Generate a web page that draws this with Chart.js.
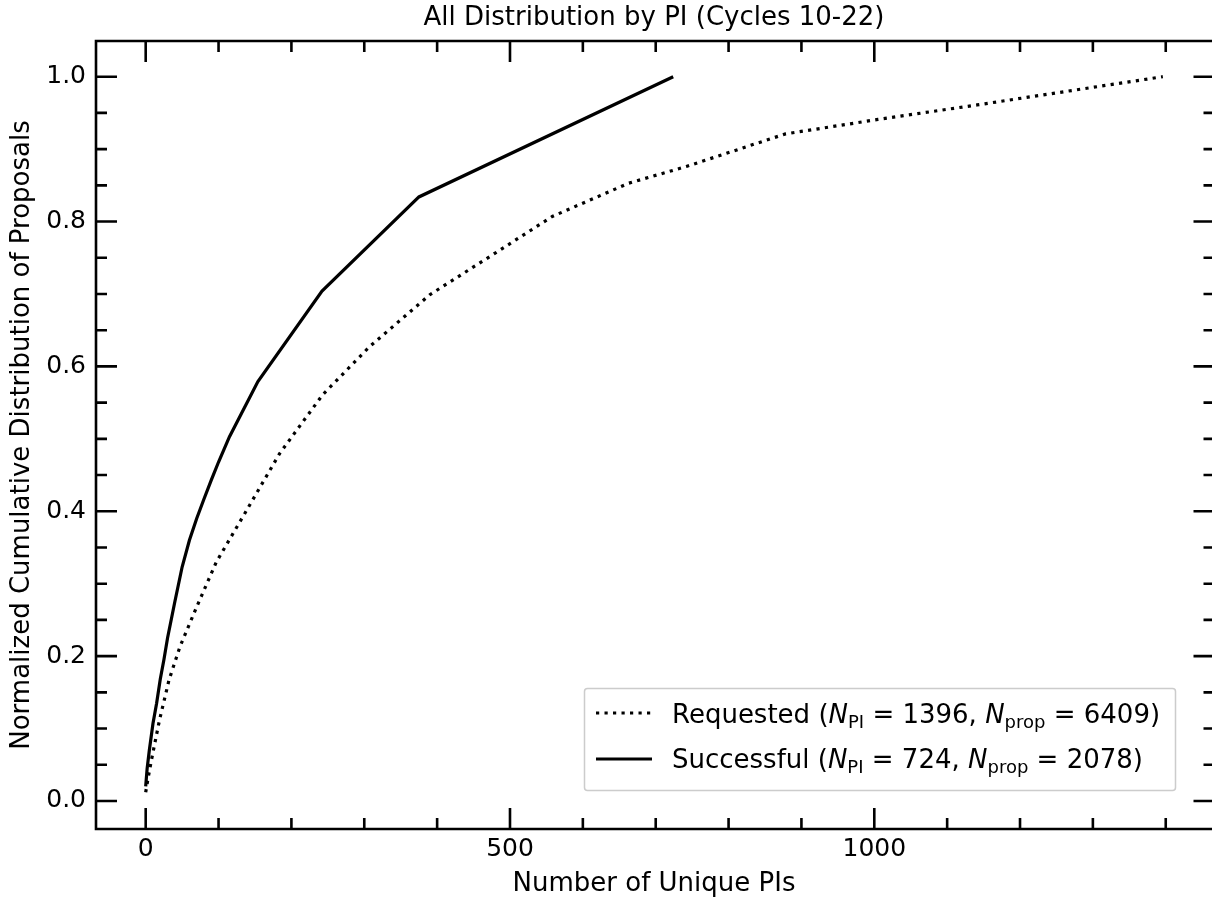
<!DOCTYPE html>
<html>
<head>
<meta charset="utf-8">
<script src="https://cdn.jsdelivr.net/npm/chart.js@4/dist/chart.umd.min.js"></script>
<style>
  html, body { margin: 0; padding: 0; background: #fff; }
  canvas { display: block; }
</style>
</head>
<body>
<canvas id="cdfChart" width="1212" height="902"></canvas>
<script>
// Series (x = number of unique PIs, y = normalized cumulative fraction)
const requestedX = [0, 3, 8, 19, 32, 47, 70, 97, 136, 184, 243, 307, 390, 479, 558, 663, 742, 878, 1005, 1141, 1396];
const requestedY = [0.012, 0.03, 0.057, 0.112, 0.167, 0.213, 0.268, 0.330, 0.397, 0.480, 0.561, 0.627, 0.699, 0.756, 0.807, 0.853, 0.876, 0.921, 0.941, 0.961, 1.0];

const successfulX = [0, 2, 5, 10, 15, 20, 25, 30, 40, 50, 60, 70, 80, 90, 100, 115, 154, 242, 375, 724];
const successfulY = [0.02, 0.045, 0.07, 0.107, 0.135, 0.168, 0.195, 0.225, 0.275, 0.323, 0.36, 0.39, 0.417, 0.443, 0.468, 0.503, 0.579, 0.704, 0.834, 1.0];

const seriesNames = ['Requested', 'Successful'];
const nPI = [1396, 724];
const nProp = [6409, 2078];

const xTickLabels = [0, 500, 1000];
const yTickLabels = [0.0, 0.2, 0.4, 0.6, 0.8, 1.0];

const FONT = "'DejaVu Sans', sans-serif";

function toPoints(xs, ys) {
    return xs.map((x, i) => ({ x, y: ys[i] }));
}

// inward ticks on all four sides plus the frame, like the matplotlib original
const framePlugin = {
    id: 'frame',
    afterDatasetsDraw(chart) {
        const { ctx, chartArea: a, scales: { x, y } } = chart;
        ctx.save();
        ctx.strokeStyle = '#000';
        ctx.lineWidth = 2.6;
        ctx.lineCap = 'butt';

        ctx.beginPath();
        ctx.moveTo(a.left, a.bottom); ctx.lineTo(a.right + 4, a.bottom);
        ctx.moveTo(a.left, a.top); ctx.lineTo(a.right + 4, a.top);
        ctx.moveTo(a.left, a.top - 1.3); ctx.lineTo(a.left, a.bottom + 1.3);
        ctx.stroke();

        const rightEdge = a.right + 2.5;
        ctx.beginPath();
        for (let v = 0; v <= 1400; v += 100) {
            const px = x.getPixelForValue(v);
            const len = v % 500 === 0 ? 21 : 11;
            ctx.moveTo(px, a.bottom); ctx.lineTo(px, a.bottom - len);
            ctx.moveTo(px, a.top); ctx.lineTo(px, a.top + len);
        }
        for (let i = 0; i <= 20; i++) {
            const py = y.getPixelForValue(i * 0.05);
            const len = i % 4 === 0 ? 21 : 11;
            ctx.moveTo(a.left, py); ctx.lineTo(a.left + len, py);
            ctx.moveTo(rightEdge, py); ctx.lineTo(rightEdge - len, py);
        }
        ctx.stroke();
        ctx.restore();
    }
};

function drawRich(ctx, x, y, parts) {
    parts.forEach(p => {
        ctx.font = p.font;
        ctx.fillText(p.text, x, y + (p.dy || 0));
        x += ctx.measureText(p.text).width;
    });
}

// legend with N_PI / N_prop subscripts, drawn by hand since Chart.js has no mathtext
const legendPlugin = {
    id: 'subLegend',
    afterDraw(chart) {
        const ctx = chart.ctx;
        const box = { left: 584.5, top: 688.5, right: 1175.5, bottom: 790.5 };
        ctx.save();
        ctx.fillStyle = 'rgba(255,255,255,0.8)';
        ctx.strokeStyle = '#cccccc';
        ctx.lineWidth = 1.5;
        ctx.beginPath();
        ctx.roundRect(box.left, box.top, box.right - box.left, box.bottom - box.top, 3);
        ctx.fill();
        ctx.stroke();

        const rows = [
            { lineY: 713, textY: 722.5 },
            { lineY: 759, textY: 767.5 }
        ];
        chart.data.datasets.forEach((ds, i) => {
            const r = rows[i];
            ctx.strokeStyle = '#000';
            ctx.lineWidth = ds.borderWidth;
            ctx.setLineDash(ds.borderDash || []);
            ctx.beginPath();
            ctx.moveTo(596, r.lineY);
            ctx.lineTo(652, r.lineY);
            ctx.stroke();
            ctx.setLineDash([]);

            ctx.fillStyle = '#000';
            ctx.textBaseline = 'alphabetic';
            ctx.textAlign = 'left';
            const reg = `26px ${FONT}`;
            const ita = `italic 26px ${FONT}`;
            const sub = `18px ${FONT}`;
            drawRich(ctx, 672, r.textY, [
                { text: seriesNames[i] + ' (', font: reg },
                { text: 'N', font: ita },
                { text: 'PI', font: sub, dy: 5 },
                { text: ' = ' + nPI[i] + ', ', font: reg },
                { text: 'N', font: ita },
                { text: 'prop', font: sub, dy: 5 },
                { text: ' = ' + nProp[i] + ')', font: reg }
            ]);
        });
        ctx.restore();
    }
};

const ctx = document.getElementById('cdfChart').getContext('2d');

new Chart(ctx, {
    type: 'scatter',
    data: {
        datasets: [
            {
                label: seriesNames[0],
                data: toPoints(requestedX, requestedY),
                showLine: true,
                borderColor: '#000',
                borderWidth: 3.2,
                borderDash: [3.2, 5.3],
                borderCapStyle: 'butt',
                pointRadius: 0,
                tension: 0
            },
            {
                label: seriesNames[1],
                data: toPoints(successfulX, successfulY),
                showLine: true,
                borderColor: '#000',
                borderWidth: 3.2,
                pointRadius: 0,
                tension: 0
            }
        ]
    },
    options: {
        responsive: false,
        animation: false,
        devicePixelRatio: 1,
        layout: { padding: 0 },
        scales: {
            x: {
                type: 'linear',
                min: -68.2,
                max: 1463.5,
                afterBuildTicks: scale => { scale.ticks = xTickLabels.map(v => ({ value: v })); },
                afterFit: scale => { scale.height = 73; },
                grid: { display: false, drawTicks: false },
                border: { display: false },
                ticks: {
                    color: '#000',
                    font: { family: FONT, size: 25 },
                    padding: 5,
                    maxRotation: 0,
                    callback: v => String(v)
                },
                title: {
                    display: true,
                    text: 'Number of Unique PIs',
                    color: '#000',
                    font: { family: FONT, size: 26 },
                    padding: { top: 0, bottom: 2.5 }
                }
            },
            y: {
                min: -0.0387,
                max: 1.0493,
                afterBuildTicks: scale => { scale.ticks = yTickLabels.map(v => ({ value: v })); },
                afterFit: scale => { scale.width = 96; },
                grid: { display: false, drawTicks: false },
                border: { display: false },
                ticks: {
                    color: '#000',
                    font: { family: FONT, size: 25 },
                    padding: 10,
                    callback: v => Number(v).toFixed(1)
                },
                title: {
                    display: true,
                    text: 'Normalized Cumulative Distribution of Proposals',
                    color: '#000',
                    font: { family: FONT, size: 26 },
                    padding: { top: 6.5, bottom: 0 }
                }
            }
        },
        plugins: {
            legend: { display: false },
            tooltip: { enabled: false },
            title: {
                display: true,
                text: 'All Distribution by PI (Cycles 10-22)',
                color: '#000',
                fullSize: false,
                font: { family: FONT, size: 26, weight: 'normal' },
                padding: { top: 2.5, bottom: 7.3 }
            }
        }
    },
    plugins: [framePlugin, legendPlugin]
});
</script>
</body>
</html>
